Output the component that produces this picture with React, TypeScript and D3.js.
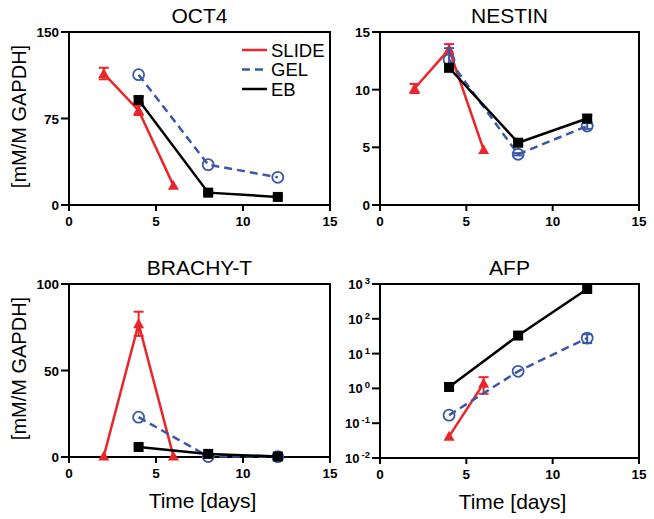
import React from "react";
import * as d3 from "d3";

const FONT = "'Liberation Sans', Arial, Helvetica, sans-serif";
const RED = "#e8262b";
const BLUE = "#3b58a8";
const BLACK = "#000000";

const seriesNames = ["SLIDE", "GEL", "EB"];
const xTicks = [0, 5, 10, 15];

// OCT4
const oct4SlideDays = [2, 4, 6];
const oct4Slide = [114, 82, 17];
const oct4SlideErr = [5, 4, 0];
const oct4GelDays = [4, 8, 12];
const oct4Gel = [113, 35, 24];
const oct4GelErr = [0, 0, 0];
const oct4EbDays = [4, 8, 12];
const oct4Eb = [91, 10.7, 7];
const oct4EbErr = [3, 1, 1];
const oct4Ticks = [0, 75, 150];

// NESTIN
const nestinSlideDays = [2, 4, 6];
const nestinSlide = [10.1, 13.5, 4.8];
const nestinSlideErr = [0.4, 0.45, 0];
const nestinGelDays = [4, 8, 12];
const nestinGel = [12.6, 4.4, 6.85];
const nestinGelErr = [1.0, 0.1, 0.25];
const nestinEbDays = [4, 8, 12];
const nestinEb = [11.9, 5.4, 7.5];
const nestinEbErr = [0.3, 0.2, 0.3];
const nestinTicks = [0, 5, 10, 15];

// BRACHY-T
const brachySlideDays = [2, 4, 6];
const brachySlide = [0.5, 77, 0.5];
const brachySlideErr = [0, 7, 0];
const brachyGelDays = [4, 8, 12];
const brachyGel = [23, 0.3, 0.2];
const brachyGelErr = [0, 0, 0];
const brachyEbDays = [4, 8, 12];
const brachyEb = [5.8, 1.8, 0.3];
const brachyEbErr = [0, 0, 0];
const brachyTicks = [0, 50, 100];

// AFP (log)
const afpSlideDays = [4, 6];
const afpSlide = [0.042, 1.4];
const afpSlideErr = [0, 0.7];
const afpGelDays = [4, 8, 12];
const afpGel = [0.17, 3.1, 28];
const afpGelErr = [0, 0, 8];
const afpEbDays = [4, 8, 12];
const afpEb = [1.1, 33, 720];
const afpEbErr = [0, 0, 0];
const afpExponents = [-2, -1, 0, 1, 2, 3];

type Series = { days: number[]; vals: number[]; err: number[] };
type PanelDef = {
  title: string;
  left: number; right: number; top: number; bottom: number;
  yDomain: [number, number];
  log?: boolean;
  yTicks: number[];
  slide: Series; gel: Series; eb: Series;
  yLabel?: boolean; xLabel?: boolean; legend?: boolean;
};

const panels: PanelDef[] = [
  {
    title: "OCT4", left: 69, right: 330, top: 32, bottom: 205,
    yDomain: [0, 150], yTicks: oct4Ticks,
    slide: { days: oct4SlideDays, vals: oct4Slide, err: oct4SlideErr },
    gel: { days: oct4GelDays, vals: oct4Gel, err: oct4GelErr },
    eb: { days: oct4EbDays, vals: oct4Eb, err: oct4EbErr },
    yLabel: true, legend: true,
  },
  {
    title: "NESTIN", left: 380, right: 639, top: 32, bottom: 205,
    yDomain: [0, 15], yTicks: nestinTicks,
    slide: { days: nestinSlideDays, vals: nestinSlide, err: nestinSlideErr },
    gel: { days: nestinGelDays, vals: nestinGel, err: nestinGelErr },
    eb: { days: nestinEbDays, vals: nestinEb, err: nestinEbErr },
  },
  {
    title: "BRACHY-T", left: 69, right: 330, top: 284, bottom: 457,
    yDomain: [0, 100], yTicks: brachyTicks,
    slide: { days: brachySlideDays, vals: brachySlide, err: brachySlideErr },
    gel: { days: brachyGelDays, vals: brachyGel, err: brachyGelErr },
    eb: { days: brachyEbDays, vals: brachyEb, err: brachyEbErr },
    yLabel: true, xLabel: true,
  },
  {
    title: "AFP", left: 380, right: 639, top: 284, bottom: 458,
    yDomain: [0.01, 1000], log: true, yTicks: afpExponents.map((e) => Math.pow(10, e)),
    slide: { days: afpSlideDays, vals: afpSlide, err: afpSlideErr },
    gel: { days: afpGelDays, vals: afpGel, err: afpGelErr },
    eb: { days: afpEbDays, vals: afpEb, err: afpEbErr },
    xLabel: true,
  },
];

function Marker({ kind, x, y }: { kind: string; x: number; y: number }) {
  if (kind === "SLIDE") {
    const s = 5.5;
    return <path d={`M${x},${y - s}L${x + s},${y + s * 0.8}L${x - s},${y + s * 0.8}Z`} fill={RED} />;
  }
  if (kind === "GEL") {
    return <circle cx={x} cy={y} r={5.5} fill="none" stroke={BLUE} strokeWidth={1.8} />;
  }
  return <rect x={x - 5} y={y - 5} width={10} height={10} fill={BLACK} />;
}

function Panel({ p }: { p: PanelDef }) {
  const x = d3.scaleLinear().domain([0, 15]).range([p.left, p.right]);
  const y: any = p.log
    ? d3.scaleLog().domain(p.yDomain).range([p.bottom, p.top])
    : d3.scaleLinear().domain(p.yDomain).range([p.bottom, p.top]);
  const line = d3.line<[number, number]>().x((d) => x(d[0])).y((d) => y(d[1]));
  const defs: [string, Series, string, string | undefined][] = [
    ["SLIDE", p.slide, RED, undefined],
    ["GEL", p.gel, BLUE, "8,5"],
    ["EB", p.eb, BLACK, undefined],
  ];
  const cx = (p.left + p.right) / 2;
  return (
    <g>
      <text x={cx} y={p.top - 9} textAnchor="middle" fontSize={21} fontFamily={FONT}>{p.title}</text>
      <rect x={p.left} y={p.top} width={p.right - p.left} height={p.bottom - p.top} fill="none" stroke="#000" strokeWidth={2} />
      {p.yTicks.map((t, i) => (
        <g key={"y" + i}>
          <line x1={p.left - 8} x2={p.left} y1={y(t)} y2={y(t)} stroke="#000" strokeWidth={2} />
          {p.log ? (
            <text x={p.left - 10} y={y(t) + 5} textAnchor="end" fontSize={13} fontWeight="bold" fontFamily={FONT}>
              <tspan>10</tspan>
              <tspan dx={2} dy={-5} fontSize={9.5}>{String(afpExponents[i])}</tspan>
            </text>
          ) : (
            <text x={p.left - 10} y={y(t) + 5} textAnchor="end" fontSize={13.5} fontWeight="bold" fontFamily={FONT}>{t}</text>
          )}
        </g>
      ))}
      {xTicks.map((t) => (
        <g key={"x" + t}>
          <line x1={x(t)} x2={x(t)} y1={p.bottom} y2={p.bottom + 6} stroke="#000" strokeWidth={2} />
          <text x={x(t)} y={p.bottom + 21} textAnchor="middle" fontSize={13.5} fontWeight="bold" fontFamily={FONT}>{t}</text>
        </g>
      ))}
      {p.yLabel && (
        <text transform={`translate(26,${(p.top + p.bottom) / 2 - 2}) rotate(-90)`} textAnchor="middle" fontSize={20} fontFamily={FONT}>[mM/M GAPDH]</text>
      )}
      {p.xLabel && (
        <text x={cx + 3} y={p.bottom + 51} textAnchor="middle" fontSize={21} fontFamily={FONT}>Time [days]</text>
      )}
      {defs.map(([name, s, color, dash]) => {
        const pts: [number, number][] = s.days.map((d, i) => [d, s.vals[i]]);
        return (
          <g key={name}>
            <path d={line(pts) || ""} fill="none" stroke={color} strokeWidth={2.5} strokeDasharray={dash} />
            {s.days.map((d, i) => {
              const e = s.err[i];
              if (!e) return null;
              const lo = p.log ? Math.max(s.vals[i] - e, 0.011) : s.vals[i] - e;
              const hi = s.vals[i] + e;
              return (
                <g key={"e" + i} stroke={color} strokeWidth={2}>
                  <line x1={x(d)} x2={x(d)} y1={y(lo)} y2={y(hi)} />
                  <line x1={x(d) - 5} x2={x(d) + 5} y1={y(hi)} y2={y(hi)} />
                  <line x1={x(d) - 5} x2={x(d) + 5} y1={y(lo)} y2={y(lo)} />
                </g>
              );
            })}
            {s.days.map((d, i) => (
              <Marker key={"m" + i} kind={name} x={x(d)} y={y(s.vals[i])} />
            ))}
          </g>
        );
      })}
      {p.legend && (
        <g>
          {seriesNames.map((n, i) => {
            const ly = 50 + i * 19.5;
            const color = n === "SLIDE" ? RED : n === "GEL" ? BLUE : BLACK;
            return (
              <g key={n}>
                <line x1={242} x2={267} y1={ly} y2={ly} stroke={color} strokeWidth={2.5} strokeDasharray={n === "GEL" ? "8,5" : undefined} />
                <text x={271} y={ly + 6.5} fontSize={18.5} fontFamily={FONT}>{n}</text>
              </g>
            );
          })}
        </g>
      )}
    </g>
  );
}

export default function App() {
  return (
    <svg width={654} height={519} style={{ position: "absolute", left: 0, top: 0, background: "#fff" }}>
      <rect width={654} height={519} fill="#fff" />
      {panels.map((p) => (
        <Panel key={p.title} p={p} />
      ))}
    </svg>
  );
}
